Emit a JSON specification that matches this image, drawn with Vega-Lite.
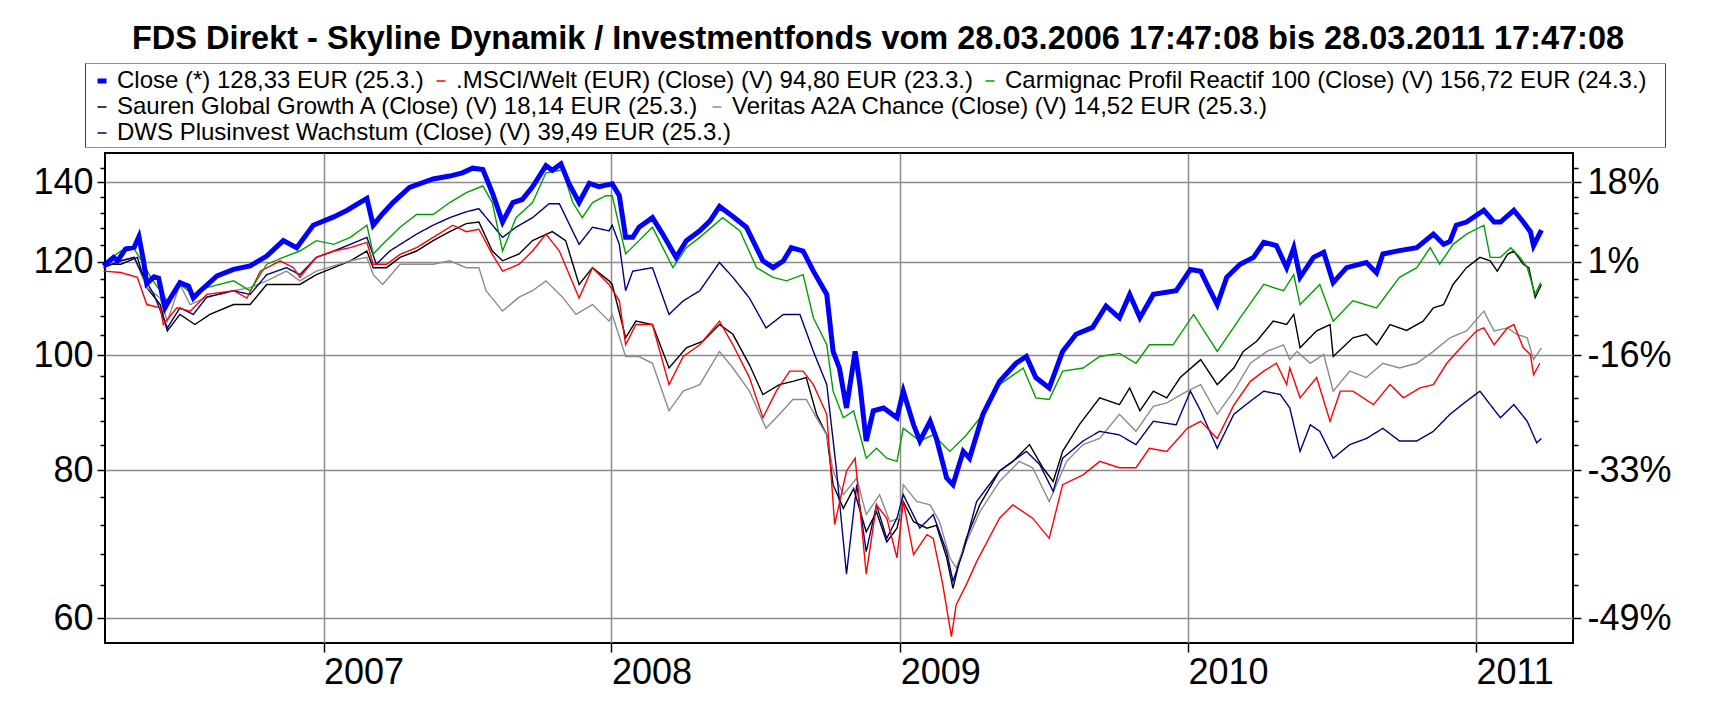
{
  "$schema": "https://vega.github.io/schema/vega-lite/v6.json",
  "autosize": {"type": "none"},
  "padding": {"left": 105, "top": 153, "right": 158, "bottom": 62},
  "width": 1468,
  "height": 490,
  "background": "#ffffff",
  "title": {
    "text": "FDS Direkt - Skyline Dynamik / Investmentfonds vom 28.03.2006 17:47:08 bis 28.03.2011 17:47:08",
    "font": "Liberation Sans",
    "fontWeight": "bold",
    "fontSize": 32.5,
    "color": "#000000",
    "anchor": "middle",
    "frame": "group",
    "dx": 39,
    "offset": 8
  },
  "data": {
    "values": [
      {"s":"a","d":"2006-03-28","v":119},{"s":"a","d":"2006-04-10","v":121},{"s":"a","d":"2006-04-15","v":120.2},{"s":"a","d":"2006-04-25","v":123},{"s":"a","d":"2006-05-06","v":123.4},{"s":"a","d":"2006-05-12","v":126},{"s":"a","d":"2006-05-18","v":120},{"s":"a","d":"2006-05-22","v":115},{"s":"a","d":"2006-05-31","v":116.5},{"s":"a","d":"2006-06-06","v":116.2},{"s":"a","d":"2006-06-14","v":109.7},{"s":"a","d":"2006-06-21","v":111.8},{"s":"a","d":"2006-07-03","v":115.2},{"s":"a","d":"2006-07-14","v":114.4},{"s":"a","d":"2006-07-20","v":111.8},{"s":"a","d":"2006-07-29","v":113.4},{"s":"a","d":"2006-08-19","v":116.7},{"s":"a","d":"2006-09-09","v":118.2},{"s":"a","d":"2006-09-30","v":119},{"s":"a","d":"2006-10-21","v":121.3},{"s":"a","d":"2006-11-11","v":125},{"s":"a","d":"2006-11-28","v":123.3},{"s":"a","d":"2006-12-19","v":128.8},{"s":"a","d":"2007-01-14","v":130.9},{"s":"a","d":"2007-01-31","v":132.6},{"s":"a","d":"2007-02-25","v":135.7},{"s":"a","d":"2007-03-05","v":128.8},{"s":"a","d":"2007-03-17","v":131.7},{"s":"a","d":"2007-03-30","v":134.6},{"s":"a","d":"2007-04-20","v":138.6},{"s":"a","d":"2007-05-20","v":140.9},{"s":"a","d":"2007-06-10","v":141.7},{"s":"a","d":"2007-06-26","v":142.6},{"s":"a","d":"2007-07-09","v":143.9},{"s":"a","d":"2007-07-22","v":143.5},{"s":"a","d":"2007-08-03","v":137.2},{"s":"a","d":"2007-08-16","v":129.6},{"s":"a","d":"2007-08-29","v":134.6},{"s":"a","d":"2007-09-10","v":135.4},{"s":"a","d":"2007-09-23","v":138.8},{"s":"a","d":"2007-10-10","v":144.6},{"s":"a","d":"2007-10-18","v":143.3},{"s":"a","d":"2007-10-29","v":145.1},{"s":"a","d":"2007-11-08","v":139.7},{"s":"a","d":"2007-11-21","v":134.6},{"s":"a","d":"2007-12-04","v":139.7},{"s":"a","d":"2007-12-16","v":138.8},{"s":"a","d":"2008-01-02","v":139.6},{"s":"a","d":"2008-01-11","v":136.4},{"s":"a","d":"2008-01-19","v":125.8},{"s":"a","d":"2008-01-28","v":125.8},{"s":"a","d":"2008-02-05","v":128.3},{"s":"a","d":"2008-02-22","v":130.7},{"s":"a","d":"2008-03-06","v":126.6},{"s":"a","d":"2008-03-23","v":121},{"s":"a","d":"2008-04-05","v":125},{"s":"a","d":"2008-04-22","v":127.4},{"s":"a","d":"2008-05-05","v":129.9},{"s":"a","d":"2008-05-17","v":133.6},{"s":"a","d":"2008-06-03","v":131},{"s":"a","d":"2008-06-20","v":128.3},{"s":"a","d":"2008-07-11","v":120.2},{"s":"a","d":"2008-07-24","v":118.6},{"s":"a","d":"2008-08-06","v":120.2},{"s":"a","d":"2008-08-16","v":123.3},{"s":"a","d":"2008-08-31","v":122.5},{"s":"a","d":"2008-09-13","v":117.8},{"s":"a","d":"2008-09-30","v":112.6},{"s":"a","d":"2008-10-08","v":100.8},{"s":"a","d":"2008-10-16","v":97.6},{"s":"a","d":"2008-10-25","v":90.3},{"s":"a","d":"2008-11-05","v":100.8},{"s":"a","d":"2008-11-11","v":94.5},{"s":"a","d":"2008-11-19","v":84.7},{"s":"a","d":"2008-11-28","v":89.8},{"s":"a","d":"2008-12-11","v":90.3},{"s":"a","d":"2008-12-28","v":88.6},{"s":"a","d":"2009-01-05","v":93.3},{"s":"a","d":"2009-01-18","v":87.4},{"s":"a","d":"2009-01-26","v":84.7},{"s":"a","d":"2009-02-08","v":88},{"s":"a","d":"2009-02-16","v":85.1},{"s":"a","d":"2009-03-01","v":78.8},{"s":"a","d":"2009-03-09","v":77.8},{"s":"a","d":"2009-03-22","v":83},{"s":"a","d":"2009-03-30","v":81.9},{"s":"a","d":"2009-04-16","v":89.2},{"s":"a","d":"2009-05-07","v":95.1},{"s":"a","d":"2009-05-28","v":98.5},{"s":"a","d":"2009-06-10","v":99.8},{"s":"a","d":"2009-06-22","v":95.8},{"s":"a","d":"2009-07-09","v":93.9},{"s":"a","d":"2009-07-26","v":100.8},{"s":"a","d":"2009-08-12","v":104.2},{"s":"a","d":"2009-09-02","v":105.6},{"s":"a","d":"2009-09-19","v":110.1},{"s":"a","d":"2009-10-06","v":107.6},{"s":"a","d":"2009-10-19","v":112.6},{"s":"a","d":"2009-11-01","v":107.6},{"s":"a","d":"2009-11-18","v":112.6},{"s":"a","d":"2009-12-17","v":113.4},{"s":"a","d":"2010-01-04","v":118.2},{"s":"a","d":"2010-01-17","v":117.8},{"s":"a","d":"2010-01-29","v":113.4},{"s":"a","d":"2010-02-07","v":110.4},{"s":"a","d":"2010-02-19","v":116.4},{"s":"a","d":"2010-03-08","v":119.4},{"s":"a","d":"2010-03-25","v":121},{"s":"a","d":"2010-04-07","v":124.6},{"s":"a","d":"2010-04-23","v":123.8},{"s":"a","d":"2010-05-06","v":118.6},{"s":"a","d":"2010-05-15","v":123.3},{"s":"a","d":"2010-05-23","v":116.4},{"s":"a","d":"2010-06-09","v":121},{"s":"a","d":"2010-06-22","v":122.2},{"s":"a","d":"2010-07-04","v":115.2},{"s":"a","d":"2010-07-21","v":118.6},{"s":"a","d":"2010-08-15","v":119.8},{"s":"a","d":"2010-08-28","v":117.4},{"s":"a","d":"2010-09-05","v":121.8},{"s":"a","d":"2010-09-26","v":122.6},{"s":"a","d":"2010-10-18","v":123.3},{"s":"a","d":"2010-11-08","v":126.6},{"s":"a","d":"2010-11-21","v":124.1},{"s":"a","d":"2010-11-29","v":124.8},{"s":"a","d":"2010-12-07","v":128.8},{"s":"a","d":"2010-12-20","v":129.6},{"s":"a","d":"2011-01-11","v":132.6},{"s":"a","d":"2011-01-24","v":129.6},{"s":"a","d":"2011-02-01","v":129.6},{"s":"a","d":"2011-02-18","v":132.6},{"s":"a","d":"2011-03-02","v":129.6},{"s":"a","d":"2011-03-11","v":127.2},{"s":"a","d":"2011-03-15","v":123.8},{"s":"a","d":"2011-03-25","v":127.6},

      {"s":"b","d":"2006-03-28","v":117.8},{"s":"b","d":"2006-04-19","v":117.5},{"s":"b","d":"2006-05-10","v":116.4},{"s":"b","d":"2006-05-22","v":110.4},{"s":"b","d":"2006-06-08","v":109.7},{"s":"b","d":"2006-06-12","v":106.2},{"s":"b","d":"2006-06-29","v":109.7},{"s":"b","d":"2006-07-16","v":109},{"s":"b","d":"2006-08-06","v":112.6},{"s":"b","d":"2006-09-09","v":113.4},{"s":"b","d":"2006-09-26","v":111.8},{"s":"b","d":"2006-10-13","v":117.8},{"s":"b","d":"2006-11-07","v":120.2},{"s":"b","d":"2006-11-24","v":118.6},{"s":"b","d":"2006-12-02","v":116.4},{"s":"b","d":"2006-12-23","v":121},{"s":"b","d":"2007-01-14","v":122.5},{"s":"b","d":"2007-02-04","v":123.3},{"s":"b","d":"2007-02-25","v":124.6},{"s":"b","d":"2007-03-05","v":119.4},{"s":"b","d":"2007-03-22","v":119.4},{"s":"b","d":"2007-04-08","v":121.7},{"s":"b","d":"2007-04-29","v":123.3},{"s":"b","d":"2007-05-20","v":125.8},{"s":"b","d":"2007-06-14","v":128.8},{"s":"b","d":"2007-07-01","v":127.2},{"s":"b","d":"2007-07-17","v":127.8},{"s":"b","d":"2007-08-03","v":121.7},{"s":"b","d":"2007-08-16","v":117.8},{"s":"b","d":"2007-09-06","v":119.4},{"s":"b","d":"2007-09-23","v":122.5},{"s":"b","d":"2007-10-10","v":126.6},{"s":"b","d":"2007-10-27","v":122.5},{"s":"b","d":"2007-11-21","v":111.8},{"s":"b","d":"2007-12-08","v":118.6},{"s":"b","d":"2007-12-29","v":114.8},{"s":"b","d":"2008-01-11","v":111.2},{"s":"b","d":"2008-01-19","v":102.1},{"s":"b","d":"2008-02-01","v":106.2},{"s":"b","d":"2008-02-22","v":106.2},{"s":"b","d":"2008-03-14","v":94.5},{"s":"b","d":"2008-04-01","v":99.8},{"s":"b","d":"2008-04-22","v":102.1},{"s":"b","d":"2008-05-17","v":106.9},{"s":"b","d":"2008-06-03","v":102.1},{"s":"b","d":"2008-06-24","v":95.8},{"s":"b","d":"2008-07-11","v":88.6},{"s":"b","d":"2008-07-28","v":93.3},{"s":"b","d":"2008-08-14","v":97},{"s":"b","d":"2008-08-31","v":97},{"s":"b","d":"2008-09-13","v":94.5},{"s":"b","d":"2008-09-30","v":89.2},{"s":"b","d":"2008-10-10","v":72},{"s":"b","d":"2008-10-25","v":79.9},{"s":"b","d":"2008-11-05","v":81.9},{"s":"b","d":"2008-11-19","v":65.4},{"s":"b","d":"2008-12-02","v":74.8},{"s":"b","d":"2008-12-15","v":72.9},{"s":"b","d":"2008-12-28","v":67.5},{"s":"b","d":"2009-01-05","v":75.3},{"s":"b","d":"2009-01-18","v":67.9},{"s":"b","d":"2009-02-04","v":70.6},{"s":"b","d":"2009-02-12","v":70.1},{"s":"b","d":"2009-02-24","v":64.1},{"s":"b","d":"2009-03-07","v":57.9},{"s":"b","d":"2009-03-13","v":61.6},{"s":"b","d":"2009-03-26","v":64.1},{"s":"b","d":"2009-04-08","v":67},{"s":"b","d":"2009-05-07","v":72.9},{"s":"b","d":"2009-05-24","v":74.8},{"s":"b","d":"2009-06-18","v":72.9},{"s":"b","d":"2009-07-09","v":70.1},{"s":"b","d":"2009-07-26","v":77.8},{"s":"b","d":"2009-08-21","v":79.3},{"s":"b","d":"2009-09-11","v":81.4},{"s":"b","d":"2009-10-06","v":80.4},{"s":"b","d":"2009-10-27","v":80.4},{"s":"b","d":"2009-11-13","v":83.5},{"s":"b","d":"2009-12-05","v":83},{"s":"b","d":"2009-12-31","v":86.8},{"s":"b","d":"2010-01-17","v":88},{"s":"b","d":"2010-02-07","v":85.1},{"s":"b","d":"2010-02-28","v":90.8},{"s":"b","d":"2010-03-21","v":95.1},{"s":"b","d":"2010-04-07","v":97},{"s":"b","d":"2010-04-23","v":98.5},{"s":"b","d":"2010-05-06","v":94.5},{"s":"b","d":"2010-05-10","v":97.6},{"s":"b","d":"2010-05-23","v":92.1},{"s":"b","d":"2010-06-13","v":95.8},{"s":"b","d":"2010-06-30","v":88},{"s":"b","d":"2010-07-13","v":93.3},{"s":"b","d":"2010-07-29","v":93.3},{"s":"b","d":"2010-08-24","v":90.9},{"s":"b","d":"2010-09-14","v":94.5},{"s":"b","d":"2010-10-01","v":92.1},{"s":"b","d":"2010-10-22","v":93.9},{"s":"b","d":"2010-11-08","v":94.5},{"s":"b","d":"2010-11-25","v":98.5},{"s":"b","d":"2010-12-16","v":102.1},{"s":"b","d":"2011-01-02","v":104.9},{"s":"b","d":"2011-01-11","v":105.5},{"s":"b","d":"2011-01-24","v":102.1},{"s":"b","d":"2011-02-10","v":105.5},{"s":"b","d":"2011-02-18","v":106.2},{"s":"b","d":"2011-03-02","v":101.5},{"s":"b","d":"2011-03-11","v":100.2},{"s":"b","d":"2011-03-15","v":96.3},{"s":"b","d":"2011-03-23","v":98.5},

      {"s":"c","d":"2006-03-28","v":119.4},{"s":"c","d":"2006-04-19","v":122.5},{"s":"c","d":"2006-05-06","v":123},{"s":"c","d":"2006-05-18","v":119.4},{"s":"c","d":"2006-05-27","v":116.4},{"s":"c","d":"2006-06-17","v":111.2},{"s":"c","d":"2006-07-03","v":114.8},{"s":"c","d":"2006-07-20","v":112.6},{"s":"c","d":"2006-08-06","v":114.1},{"s":"c","d":"2006-09-09","v":115.6},{"s":"c","d":"2006-09-30","v":113.4},{"s":"c","d":"2006-10-21","v":119.4},{"s":"c","d":"2006-11-11","v":121},{"s":"c","d":"2006-12-02","v":122.5},{"s":"c","d":"2006-12-23","v":125},{"s":"c","d":"2007-01-14","v":124.1},{"s":"c","d":"2007-02-04","v":125.8},{"s":"c","d":"2007-02-25","v":128.8},{"s":"c","d":"2007-03-05","v":121.8},{"s":"c","d":"2007-03-17","v":124.1},{"s":"c","d":"2007-04-08","v":128.3},{"s":"c","d":"2007-04-29","v":131.5},{"s":"c","d":"2007-05-20","v":131.5},{"s":"c","d":"2007-06-10","v":134.6},{"s":"c","d":"2007-07-01","v":137.2},{"s":"c","d":"2007-07-22","v":139},{"s":"c","d":"2007-08-03","v":134.6},{"s":"c","d":"2007-08-16","v":122.5},{"s":"c","d":"2007-09-02","v":130.7},{"s":"c","d":"2007-09-23","v":134.6},{"s":"c","d":"2007-10-10","v":142.6},{"s":"c","d":"2007-10-31","v":143.4},{"s":"c","d":"2007-11-13","v":134.6},{"s":"c","d":"2007-11-25","v":130.7},{"s":"c","d":"2007-12-08","v":134.6},{"s":"c","d":"2007-12-25","v":136.4},{"s":"c","d":"2008-01-02","v":136.4},{"s":"c","d":"2008-01-19","v":121.8},{"s":"c","d":"2008-02-05","v":125},{"s":"c","d":"2008-02-22","v":128.3},{"s":"c","d":"2008-03-19","v":118.6},{"s":"c","d":"2008-04-05","v":123.3},{"s":"c","d":"2008-04-22","v":125.8},{"s":"c","d":"2008-05-21","v":130.7},{"s":"c","d":"2008-06-12","v":127.4},{"s":"c","d":"2008-07-03","v":118.6},{"s":"c","d":"2008-07-24","v":116.4},{"s":"c","d":"2008-08-10","v":115.6},{"s":"c","d":"2008-08-31","v":117},{"s":"c","d":"2008-09-13","v":107.6},{"s":"c","d":"2008-09-30","v":102.1},{"s":"c","d":"2008-10-08","v":93.3},{"s":"c","d":"2008-10-21","v":88.6},{"s":"c","d":"2008-11-03","v":89.8},{"s":"c","d":"2008-11-19","v":81.9},{"s":"c","d":"2008-12-02","v":83.5},{"s":"c","d":"2008-12-15","v":81.9},{"s":"c","d":"2008-12-28","v":81.4},{"s":"c","d":"2009-01-05","v":86.8},{"s":"c","d":"2009-01-26","v":84.7},{"s":"c","d":"2009-02-12","v":85.7},{"s":"c","d":"2009-03-05","v":83},{"s":"c","d":"2009-03-26","v":85.7},{"s":"c","d":"2009-04-16","v":89.2},{"s":"c","d":"2009-05-07","v":94.5},{"s":"c","d":"2009-06-06","v":97.6},{"s":"c","d":"2009-06-22","v":92.1},{"s":"c","d":"2009-07-09","v":91.8},{"s":"c","d":"2009-07-26","v":97},{"s":"c","d":"2009-08-21","v":97.6},{"s":"c","d":"2009-09-11","v":99.8},{"s":"c","d":"2009-10-06","v":100.4},{"s":"c","d":"2009-10-27","v":98.5},{"s":"c","d":"2009-11-13","v":102.1},{"s":"c","d":"2009-12-13","v":102.1},{"s":"c","d":"2010-01-08","v":108.3},{"s":"c","d":"2010-02-07","v":100.8},{"s":"c","d":"2010-03-08","v":107.6},{"s":"c","d":"2010-04-07","v":114.8},{"s":"c","d":"2010-05-02","v":113.4},{"s":"c","d":"2010-05-15","v":117},{"s":"c","d":"2010-05-23","v":110.4},{"s":"c","d":"2010-06-17","v":114.8},{"s":"c","d":"2010-07-04","v":106.9},{"s":"c","d":"2010-07-29","v":111.2},{"s":"c","d":"2010-08-28","v":109.7},{"s":"c","d":"2010-09-26","v":116.4},{"s":"c","d":"2010-10-18","v":118.6},{"s":"c","d":"2010-11-04","v":123.3},{"s":"c","d":"2010-11-16","v":119.4},{"s":"c","d":"2010-12-03","v":124.1},{"s":"c","d":"2010-12-20","v":126.6},{"s":"c","d":"2011-01-11","v":128.8},{"s":"c","d":"2011-01-19","v":121},{"s":"c","d":"2011-02-01","v":121},{"s":"c","d":"2011-02-14","v":123.3},{"s":"c","d":"2011-02-26","v":121},{"s":"c","d":"2011-03-07","v":118.6},{"s":"c","d":"2011-03-17","v":112.6},{"s":"c","d":"2011-03-24","v":115.2},

      {"s":"d","d":"2006-03-28","v":119.4},{"s":"d","d":"2006-04-19","v":119.4},{"s":"d","d":"2006-05-10","v":121},{"s":"d","d":"2006-05-22","v":114.1},{"s":"d","d":"2006-06-08","v":110.4},{"s":"d","d":"2006-06-17","v":104.9},{"s":"d","d":"2006-07-03","v":108.3},{"s":"d","d":"2006-07-22","v":106.2},{"s":"d","d":"2006-08-10","v":108.3},{"s":"d","d":"2006-09-09","v":110.4},{"s":"d","d":"2006-09-30","v":110.4},{"s":"d","d":"2006-10-21","v":114.8},{"s":"d","d":"2006-11-11","v":114.8},{"s":"d","d":"2006-12-02","v":114.8},{"s":"d","d":"2006-12-23","v":117},{"s":"d","d":"2007-01-14","v":118.6},{"s":"d","d":"2007-02-04","v":120.2},{"s":"d","d":"2007-02-25","v":122.5},{"s":"d","d":"2007-03-05","v":118.6},{"s":"d","d":"2007-03-22","v":118.6},{"s":"d","d":"2007-04-08","v":121},{"s":"d","d":"2007-04-29","v":122.5},{"s":"d","d":"2007-05-20","v":125},{"s":"d","d":"2007-06-10","v":127.2},{"s":"d","d":"2007-07-01","v":129.2},{"s":"d","d":"2007-07-17","v":129.6},{"s":"d","d":"2007-08-03","v":122.5},{"s":"d","d":"2007-08-16","v":120.2},{"s":"d","d":"2007-09-06","v":121.8},{"s":"d","d":"2007-09-23","v":125},{"s":"d","d":"2007-10-18","v":127.2},{"s":"d","d":"2007-11-04","v":125},{"s":"d","d":"2007-11-21","v":114.8},{"s":"d","d":"2007-12-08","v":118.6},{"s":"d","d":"2007-12-29","v":115.6},{"s":"d","d":"2008-01-02","v":114.8},{"s":"d","d":"2008-01-19","v":103.5},{"s":"d","d":"2008-02-01","v":106.9},{"s":"d","d":"2008-02-22","v":106.2},{"s":"d","d":"2008-03-14","v":97.6},{"s":"d","d":"2008-04-05","v":101.5},{"s":"d","d":"2008-04-26","v":102.8},{"s":"d","d":"2008-05-17","v":106.2},{"s":"d","d":"2008-06-03","v":104.2},{"s":"d","d":"2008-06-24","v":98.2},{"s":"d","d":"2008-07-11","v":92.7},{"s":"d","d":"2008-08-01","v":94.5},{"s":"d","d":"2008-08-18","v":95.1},{"s":"d","d":"2008-09-04","v":95.8},{"s":"d","d":"2008-09-17","v":89.2},{"s":"d","d":"2008-09-30","v":85.7},{"s":"d","d":"2008-10-08","v":77.8},{"s":"d","d":"2008-10-21","v":74.3},{"s":"d","d":"2008-11-03","v":77.2},{"s":"d","d":"2008-11-19","v":71},{"s":"d","d":"2008-12-02","v":73.8},{"s":"d","d":"2008-12-15","v":69.6},{"s":"d","d":"2008-12-28","v":71.5},{"s":"d","d":"2009-01-05","v":75.3},{"s":"d","d":"2009-01-18","v":72.4},{"s":"d","d":"2009-02-04","v":71.5},{"s":"d","d":"2009-02-16","v":71.9},{"s":"d","d":"2009-03-01","v":67.5},{"s":"d","d":"2009-03-09","v":63.6},{"s":"d","d":"2009-03-17","v":67},{"s":"d","d":"2009-03-26","v":70.1},{"s":"d","d":"2009-04-12","v":74.8},{"s":"d","d":"2009-05-07","v":79.9},{"s":"d","d":"2009-05-24","v":81.4},{"s":"d","d":"2009-06-14","v":84.1},{"s":"d","d":"2009-07-01","v":80.4},{"s":"d","d":"2009-07-14","v":78.3},{"s":"d","d":"2009-07-26","v":83},{"s":"d","d":"2009-08-16","v":87.4},{"s":"d","d":"2009-09-11","v":92.1},{"s":"d","d":"2009-10-06","v":90.9},{"s":"d","d":"2009-10-19","v":93.9},{"s":"d","d":"2009-11-01","v":89.8},{"s":"d","d":"2009-11-18","v":93.3},{"s":"d","d":"2009-12-05","v":92.1},{"s":"d","d":"2009-12-22","v":95.8},{"s":"d","d":"2010-01-17","v":99.2},{"s":"d","d":"2010-02-07","v":94.5},{"s":"d","d":"2010-02-28","v":97.6},{"s":"d","d":"2010-03-12","v":100.8},{"s":"d","d":"2010-03-29","v":102.8},{"s":"d","d":"2010-04-19","v":106.9},{"s":"d","d":"2010-05-06","v":106.2},{"s":"d","d":"2010-05-15","v":108.3},{"s":"d","d":"2010-05-23","v":101.5},{"s":"d","d":"2010-06-13","v":104.9},{"s":"d","d":"2010-06-30","v":106.2},{"s":"d","d":"2010-07-04","v":99.8},{"s":"d","d":"2010-07-29","v":103.5},{"s":"d","d":"2010-08-15","v":104.2},{"s":"d","d":"2010-08-28","v":102.1},{"s":"d","d":"2010-09-14","v":106.2},{"s":"d","d":"2010-10-05","v":105},{"s":"d","d":"2010-10-26","v":106.9},{"s":"d","d":"2010-11-08","v":109.7},{"s":"d","d":"2010-11-21","v":110.4},{"s":"d","d":"2010-12-03","v":114.8},{"s":"d","d":"2010-12-20","v":118.6},{"s":"d","d":"2011-01-06","v":121},{"s":"d","d":"2011-01-19","v":120.2},{"s":"d","d":"2011-01-28","v":117.8},{"s":"d","d":"2011-02-10","v":121.7},{"s":"d","d":"2011-02-18","v":122.5},{"s":"d","d":"2011-03-02","v":119.4},{"s":"d","d":"2011-03-09","v":118.6},{"s":"d","d":"2011-03-17","v":111.9},{"s":"d","d":"2011-03-25","v":114.8},

      {"s":"e","d":"2006-03-28","v":118.6},{"s":"e","d":"2006-04-19","v":120.2},{"s":"e","d":"2006-05-06","v":121},{"s":"e","d":"2006-05-22","v":114.1},{"s":"e","d":"2006-06-08","v":111.8},{"s":"e","d":"2006-06-17","v":106.9},{"s":"e","d":"2006-07-03","v":114.8},{"s":"e","d":"2006-07-16","v":110.4},{"s":"e","d":"2006-08-06","v":112},{"s":"e","d":"2006-09-09","v":113.4},{"s":"e","d":"2006-09-30","v":114.1},{"s":"e","d":"2006-10-21","v":115.6},{"s":"e","d":"2006-11-15","v":117.8},{"s":"e","d":"2006-12-02","v":115.6},{"s":"e","d":"2006-12-23","v":117.8},{"s":"e","d":"2007-01-14","v":119},{"s":"e","d":"2007-02-04","v":120.2},{"s":"e","d":"2007-02-25","v":121},{"s":"e","d":"2007-03-05","v":117},{"s":"e","d":"2007-03-17","v":114.8},{"s":"e","d":"2007-04-08","v":119.4},{"s":"e","d":"2007-04-29","v":119.4},{"s":"e","d":"2007-05-20","v":119.4},{"s":"e","d":"2007-06-10","v":120.2},{"s":"e","d":"2007-07-01","v":118.6},{"s":"e","d":"2007-07-17","v":118.6},{"s":"e","d":"2007-07-26","v":113.4},{"s":"e","d":"2007-08-16","v":109},{"s":"e","d":"2007-09-06","v":112},{"s":"e","d":"2007-09-23","v":113.4},{"s":"e","d":"2007-10-10","v":115.6},{"s":"e","d":"2007-10-31","v":112},{"s":"e","d":"2007-11-17","v":108.3},{"s":"e","d":"2007-12-08","v":110.4},{"s":"e","d":"2007-12-29","v":106.9},{"s":"e","d":"2008-01-02","v":108.3},{"s":"e","d":"2008-01-19","v":99.8},{"s":"e","d":"2008-02-05","v":99.8},{"s":"e","d":"2008-02-22","v":98.5},{"s":"e","d":"2008-03-14","v":89.8},{"s":"e","d":"2008-04-01","v":93.3},{"s":"e","d":"2008-04-22","v":94.5},{"s":"e","d":"2008-05-17","v":100.8},{"s":"e","d":"2008-06-03","v":97.6},{"s":"e","d":"2008-06-24","v":93.3},{"s":"e","d":"2008-07-15","v":86.8},{"s":"e","d":"2008-08-01","v":89.2},{"s":"e","d":"2008-08-18","v":91.8},{"s":"e","d":"2008-09-04","v":91.8},{"s":"e","d":"2008-09-17","v":88.6},{"s":"e","d":"2008-09-30","v":85.7},{"s":"e","d":"2008-10-08","v":79.9},{"s":"e","d":"2008-10-21","v":76.3},{"s":"e","d":"2008-11-07","v":78.8},{"s":"e","d":"2008-11-19","v":73.4},{"s":"e","d":"2008-12-06","v":76.3},{"s":"e","d":"2008-12-19","v":72.4},{"s":"e","d":"2009-01-01","v":73},{"s":"e","d":"2009-01-05","v":77.8},{"s":"e","d":"2009-01-22","v":75.3},{"s":"e","d":"2009-02-08","v":74.8},{"s":"e","d":"2009-02-20","v":72.4},{"s":"e","d":"2009-03-05","v":67.5},{"s":"e","d":"2009-03-13","v":66.2},{"s":"e","d":"2009-03-26","v":69.6},{"s":"e","d":"2009-04-12","v":73.8},{"s":"e","d":"2009-05-07","v":78.3},{"s":"e","d":"2009-06-01","v":81.4},{"s":"e","d":"2009-06-18","v":80.4},{"s":"e","d":"2009-07-09","v":75.3},{"s":"e","d":"2009-07-31","v":81.4},{"s":"e","d":"2009-08-21","v":84.1},{"s":"e","d":"2009-09-11","v":85.1},{"s":"e","d":"2009-10-06","v":89.2},{"s":"e","d":"2009-10-27","v":86.3},{"s":"e","d":"2009-11-18","v":90.6},{"s":"e","d":"2009-12-05","v":91.2},{"s":"e","d":"2009-12-31","v":93.3},{"s":"e","d":"2010-01-17","v":94.5},{"s":"e","d":"2010-02-07","v":89.2},{"s":"e","d":"2010-02-28","v":93.3},{"s":"e","d":"2010-03-21","v":98.5},{"s":"e","d":"2010-04-11","v":100.8},{"s":"e","d":"2010-05-02","v":102.1},{"s":"e","d":"2010-05-10","v":99.2},{"s":"e","d":"2010-05-19","v":100.8},{"s":"e","d":"2010-06-05","v":98.5},{"s":"e","d":"2010-06-22","v":100.2},{"s":"e","d":"2010-07-04","v":93.3},{"s":"e","d":"2010-07-25","v":97},{"s":"e","d":"2010-08-15","v":95.8},{"s":"e","d":"2010-09-05","v":98.5},{"s":"e","d":"2010-09-26","v":97.6},{"s":"e","d":"2010-10-18","v":98.5},{"s":"e","d":"2010-11-08","v":100.8},{"s":"e","d":"2010-11-29","v":103.5},{"s":"e","d":"2010-12-20","v":104.9},{"s":"e","d":"2011-01-11","v":109},{"s":"e","d":"2011-01-24","v":104.9},{"s":"e","d":"2011-02-10","v":105.5},{"s":"e","d":"2011-02-22","v":104.2},{"s":"e","d":"2011-03-07","v":103.5},{"s":"e","d":"2011-03-15","v":99.2},{"s":"e","d":"2011-03-25","v":101.5},

      {"s":"f","d":"2006-03-28","v":118.6},{"s":"f","d":"2006-04-19","v":120.2},{"s":"f","d":"2006-05-06","v":121},{"s":"f","d":"2006-05-18","v":116.4},{"s":"f","d":"2006-05-31","v":112.6},{"s":"f","d":"2006-06-17","v":105.5},{"s":"f","d":"2006-07-03","v":109.7},{"s":"f","d":"2006-07-20","v":108.3},{"s":"f","d":"2006-08-06","v":112},{"s":"f","d":"2006-09-09","v":113.4},{"s":"f","d":"2006-09-30","v":112.6},{"s":"f","d":"2006-10-21","v":117},{"s":"f","d":"2006-11-15","v":118.6},{"s":"f","d":"2006-12-02","v":117},{"s":"f","d":"2006-12-23","v":121},{"s":"f","d":"2007-01-14","v":122.5},{"s":"f","d":"2007-02-04","v":124.1},{"s":"f","d":"2007-02-25","v":125.8},{"s":"f","d":"2007-03-09","v":119.4},{"s":"f","d":"2007-03-26","v":122.5},{"s":"f","d":"2007-04-29","v":126.6},{"s":"f","d":"2007-05-20","v":128.8},{"s":"f","d":"2007-06-10","v":130.7},{"s":"f","d":"2007-07-01","v":132.2},{"s":"f","d":"2007-07-17","v":133},{"s":"f","d":"2007-08-16","v":125.8},{"s":"f","d":"2007-09-02","v":128.3},{"s":"f","d":"2007-09-23","v":130.7},{"s":"f","d":"2007-10-14","v":134.3},{"s":"f","d":"2007-10-27","v":134.3},{"s":"f","d":"2007-11-21","v":124.1},{"s":"f","d":"2007-12-08","v":128.3},{"s":"f","d":"2007-12-29","v":127.4},{"s":"f","d":"2008-01-02","v":128.8},{"s":"f","d":"2008-01-11","v":124.1},{"s":"f","d":"2008-01-19","v":113.4},{"s":"f","d":"2008-01-28","v":117.8},{"s":"f","d":"2008-02-22","v":118.6},{"s":"f","d":"2008-03-14","v":108.3},{"s":"f","d":"2008-04-01","v":111.2},{"s":"f","d":"2008-04-22","v":113.4},{"s":"f","d":"2008-05-17","v":119.8},{"s":"f","d":"2008-06-03","v":116.4},{"s":"f","d":"2008-06-24","v":111.8},{"s":"f","d":"2008-07-15","v":105.5},{"s":"f","d":"2008-08-06","v":108.3},{"s":"f","d":"2008-08-27","v":108.3},{"s":"f","d":"2008-09-13","v":100.8},{"s":"f","d":"2008-09-30","v":94.5},{"s":"f","d":"2008-10-12","v":80.4},{"s":"f","d":"2008-10-25","v":65.4},{"s":"f","d":"2008-11-07","v":77.8},{"s":"f","d":"2008-11-19","v":68.3},{"s":"f","d":"2008-12-02","v":74.8},{"s":"f","d":"2008-12-15","v":70.1},{"s":"f","d":"2008-12-28","v":72.9},{"s":"f","d":"2009-01-05","v":76.3},{"s":"f","d":"2009-01-26","v":71.5},{"s":"f","d":"2009-02-12","v":73.4},{"s":"f","d":"2009-03-01","v":68.3},{"s":"f","d":"2009-03-09","v":64.5},{"s":"f","d":"2009-03-22","v":68.3},{"s":"f","d":"2009-04-08","v":75.3},{"s":"f","d":"2009-05-07","v":79.9},{"s":"f","d":"2009-06-10","v":83},{"s":"f","d":"2009-06-27","v":80.9},{"s":"f","d":"2009-07-14","v":76.8},{"s":"f","d":"2009-07-26","v":81.9},{"s":"f","d":"2009-08-21","v":84.7},{"s":"f","d":"2009-09-11","v":86.3},{"s":"f","d":"2009-10-06","v":85.7},{"s":"f","d":"2009-10-27","v":84.1},{"s":"f","d":"2009-11-18","v":88},{"s":"f","d":"2009-12-17","v":87.4},{"s":"f","d":"2010-01-04","v":93.3},{"s":"f","d":"2010-01-17","v":89.8},{"s":"f","d":"2010-02-07","v":83.5},{"s":"f","d":"2010-02-28","v":89.2},{"s":"f","d":"2010-03-21","v":91.5},{"s":"f","d":"2010-04-07","v":93.3},{"s":"f","d":"2010-04-28","v":92.7},{"s":"f","d":"2010-05-10","v":90.3},{"s":"f","d":"2010-05-23","v":83},{"s":"f","d":"2010-06-05","v":87.4},{"s":"f","d":"2010-06-17","v":86.3},{"s":"f","d":"2010-07-04","v":81.9},{"s":"f","d":"2010-07-25","v":84.1},{"s":"f","d":"2010-08-15","v":85.1},{"s":"f","d":"2010-09-05","v":86.8},{"s":"f","d":"2010-09-26","v":84.7},{"s":"f","d":"2010-10-18","v":84.7},{"s":"f","d":"2010-11-08","v":86.3},{"s":"f","d":"2010-11-29","v":89.2},{"s":"f","d":"2010-12-20","v":91.5},{"s":"f","d":"2011-01-06","v":93.3},{"s":"f","d":"2011-01-19","v":90.9},{"s":"f","d":"2011-02-01","v":88.6},{"s":"f","d":"2011-02-18","v":90.9},{"s":"f","d":"2011-03-07","v":88},{"s":"f","d":"2011-03-19","v":84.4},{"s":"f","d":"2011-03-25","v":85.1}
    ]
  },
  "encoding": {
    "x": {
      "field": "d",
      "type": "temporal",
      "scale": {"domain": [{"year": 2006, "month": 3, "date": 30}, {"year": 2011, "month": 5, "date": 4}], "nice": false},
      "axis": {
        "title": null,
        "values": [{"year": 2007, "month": 1, "date": 1}, {"year": 2008, "month": 1, "date": 1}, {"year": 2009, "month": 1, "date": 1}, {"year": 2010, "month": 1, "date": 1}, {"year": 2011, "month": 1, "date": 1}],
        "format": "%Y",
        "labelAlign": "left",
        "labelBaseline": "top",
        "labelFont": "Liberation Sans",
        "labelFontSize": 36,
        "labelColor": "#000000",
        "labelPadding": 3,
        "labelFlush": false,
        "labelOverlap": false,
        "tickSize": 9,
        "tickColor": "#000000",
        "tickWidth": 1.5,
        "grid": true,
        "gridColor": "#8c8c8c",
        "gridWidth": 1.5,
        "domain": false
      }
    }
  },
  "layer": [
    {
      "transform": [{"filter": {"field": "s", "oneOf": ["d", "e"]}}],
      "mark": {"type": "line", "strokeWidth": 1.4},
      "encoding": {
        "y": {
          "field": "v",
          "type": "quantitative",
          "scale": {"type": "log", "domain": [57.2, 148.2], "nice": false, "zero": false},
          "axis": {
            "orient": "left",
            "title": null,
            "values": [60, 64, 68, 72, 76, 80, 84, 88, 92, 96, 100, 104, 108, 112, 116, 120, 124, 128, 132, 136, 140, 144],
            "labelExpr": "datum.value % 20 === 0 ? '' + datum.value : ''",
            "labelFont": "Liberation Sans",
            "labelFontSize": 36,
            "labelColor": "#000000",
            "labelPadding": 4,
            "labelOverlap": false,
            "labelBound": false,
            "labelFlush": false,
            "tickColor": "#000000",
            "tickWidth": 1.5,
            "tickSize": {"condition": {"test": "datum.value % 20 === 0", "value": 8}, "value": 5},
            "grid": true,
            "gridColor": "#8c8c8c",
            "gridWidth": 1.5,
            "gridOpacity": {"condition": {"test": "datum.value % 20 === 0", "value": 1}, "value": 0},
            "domain": false
          }
        },
        "color": {
          "field": "s",
          "type": "nominal",
          "scale": {"domain": ["d", "e"], "range": ["#000000", "#8c8c8c"]},
          "legend": {
            "title": null,
            "orient": "none",
            "legendX": -15,
            "legendY": -58,
            "direction": "horizontal",
            "labelExpr": "datum.value === 'd' ? 'Sauren Global Growth A (Close) (V) 18,14 EUR (25.3.)' : 'Veritas A2A Chance (Close) (V) 14,52 EUR (25.3.)'"
          }
        }
      }
    },
    {
      "transform": [{"filter": {"field": "s", "equal": "f"}}],
      "mark": {"type": "line", "strokeWidth": 1.4},
      "encoding": {
        "y": {
          "field": "v",
          "type": "quantitative",
          "scale": {"type": "log", "domain": [57.2, 148.2], "nice": false, "zero": false},
          "axis": {
            "orient": "right",
            "title": null,
            "values": [60, 64, 68, 72, 76, 80, 84, 88, 92, 96, 100, 104, 108, 112, 116, 120, 124, 128, 132, 136, 140, 144],
            "labelExpr": "datum.value === 140 ? '18%' : datum.value === 120 ? '1%' : datum.value === 100 ? '-16%' : datum.value === 80 ? '-33%' : datum.value === 60 ? '-49%' : ''",
            "labelFont": "Liberation Sans",
            "labelFontSize": 36,
            "labelColor": "#000000",
            "labelPadding": 6,
            "labelOverlap": false,
            "labelBound": false,
            "labelFlush": false,
            "tickColor": "#000000",
            "tickWidth": 1.5,
            "tickSize": {"condition": {"test": "datum.value % 20 === 0", "value": 8}, "value": 5},
            "grid": false,
            "domain": false
          }
        },
        "color": {
          "field": "s",
          "type": "nominal",
          "scale": {"domain": ["f"], "range": ["#000080"]},
          "legend": {
            "title": null,
            "orient": "none",
            "legendX": -15,
            "legendY": -32,
            "direction": "horizontal",
            "labelExpr": "'DWS Plusinvest Wachstum (Close) (V) 39,49 EUR (25.3.)'"
          }
        },
        "strokeDash": {
          "datum": "frame",
          "type": "nominal",
          "scale": {"domain": ["frame"], "range": [[1, 0]]},
          "legend": {
            "title": null,
            "orient": "none",
            "legendX": -20,
            "legendY": -89.5,
            "symbolType": "M-1,-0.05316H1V0.05316H-1Z",
            "symbolSize": 2496400,
            "clipHeight": 84,
            "symbolOffset": 0,
            "symbolStrokeWidth": 1,
            "symbolStrokeColor": "#000000",
            "symbolFillColor": "transparent",
            "labelExpr": "''",
            "labelOffset": 0,
            "encode": {"symbols": {"update": {"stroke": {"value": "#000000"}, "fill": {"value": "transparent"}, "strokeWidth": {"value": 1}, "strokeDash": {"value": [1, 0]}}}}
          }
        }
      }
    },
    {
      "layer": [
        {
          "transform": [{"filter": {"field": "s", "oneOf": ["b", "c"]}}],
          "mark": {"type": "line", "strokeWidth": 1.4},
          "encoding": {
            "y": {"field": "v", "type": "quantitative", "scale": {"type": "log", "domain": [57.2, 148.2], "nice": false, "zero": false}, "axis": null}
          }
        },
        {
          "transform": [{"filter": {"field": "s", "equal": "a"}}],
          "mark": {"type": "line", "strokeWidth": 5},
          "encoding": {
            "y": {"field": "v", "type": "quantitative", "scale": {"type": "log", "domain": [57.2, 148.2], "nice": false, "zero": false}, "axis": null}
          }
        }
      ],
      "encoding": {
        "color": {
          "field": "s",
          "type": "nominal",
          "scale": {"domain": ["a", "b", "c"], "range": ["#0000ff", "#ff0000", "#00a000"]},
          "legend": {
            "title": null,
            "orient": "none",
            "legendX": -15,
            "legendY": -84,
            "direction": "horizontal",
            "labelExpr": "datum.value === 'a' ? 'Close (*) 128,33 EUR (25.3.)' : datum.value === 'b' ? '.MSCI/Welt (EUR) (Close) (V) 94,80 EUR (23.3.)' : 'Carmignac Profil Reactif 100 (Close) (V) 156,72 EUR (24.3.)'",
            "encode": {"symbols": {"update": {"strokeWidth": {"signal": "datum.value === 'a' ? 5 : 1.5"}}}}
          }
        }
      }
    }
  ],
  "resolve": {"scale": {"color": "independent", "strokeDash": "independent"}, "axis": {"y": "independent"}},
  "config": {
    "font": "Liberation Sans",
    "view": {"stroke": "#000000", "strokeWidth": 2},
    "legend": {
      "symbolType": "stroke",
      "symbolSize": 81,
      "symbolStrokeWidth": 1.5,
      "labelFont": "Liberation Sans",
      "labelFontSize": 24,
      "labelColor": "#000000",
      "labelLimit": 0,
      "labelOffset": 3,
      "columnPadding": 5,
      "padding": 0,
      "gridAlign": "none"
    }
  }
}
